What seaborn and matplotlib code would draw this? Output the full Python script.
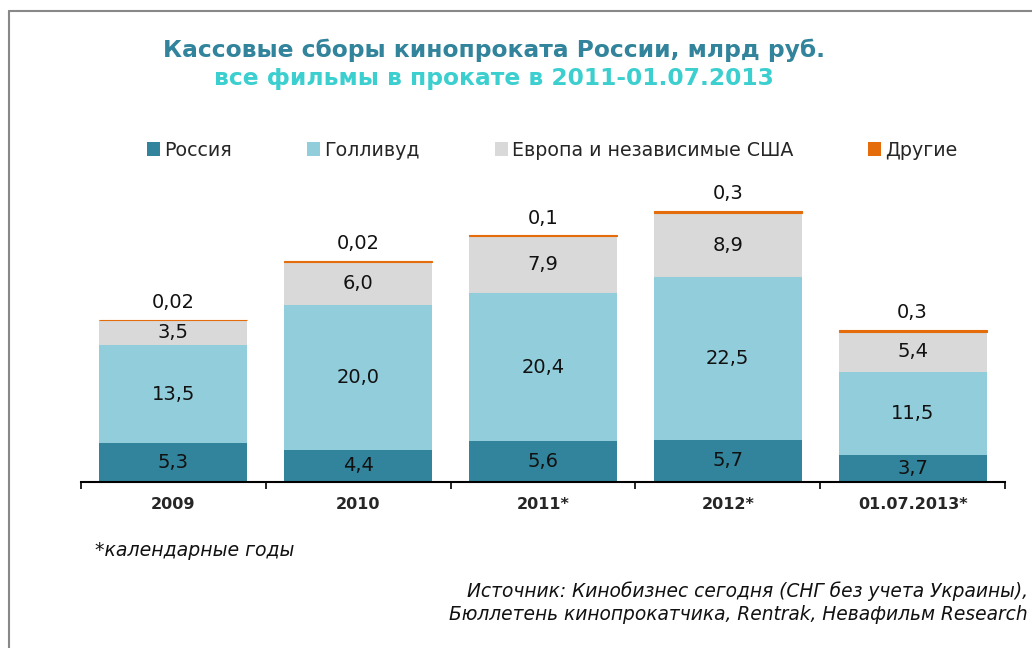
import pandas as pd
import seaborn as sns
import matplotlib.pyplot as plt
from matplotlib.lines import Line2D
from matplotlib.patches import Patch

# values, bln rub
periods = ['2009', '2010', '2011*', '2012*', '01.07.2013*']
russia = [5.3, 4.4, 5.6, 5.7, 3.7]
hollywood = [13.5, 20.0, 20.4, 22.5, 11.5]
europe = [3.5, 6.0, 7.9, 8.9, 5.4]
other = [0.02, 0.02, 0.1, 0.3, 0.3]
other_labels = ['0,02', '0,02', '0,1', '0,3', '0,3']

series_names = ['Россия', 'Голливуд', 'Европа и независимые США', 'Другие']
series_colors = ['#31849B', '#92CDDC', '#D9D9D9', '#E46C0A']


def fmt(v):
    """Format a number with a decimal comma."""
    return f'{v:.1f}'.replace('.', ',')


def main():
    sns.set_theme(style='white')
    plt.rcParams['font.family'] = ['DejaVu Sans']

    df = pd.DataFrame({'period': periods, 'russia': russia,
                       'hollywood': hollywood, 'europe': europe,
                       'other': other})
    df['b1'] = df['russia']
    df['b2'] = df['b1'] + df['hollywood']
    df['b3'] = df['b2'] + df['europe']

    fig = plt.figure(figsize=(10.32, 6.48), dpi=100)
    ax = fig.add_axes([81 / 1032, 1 - 481.5 / 648, 924 / 1032, 0.45])

    sns.barplot(data=df, x='period', y='russia', color=series_colors[0],
                width=0.8, saturation=1, ax=ax, linewidth=0)
    sns.barplot(data=df, x='period', y='hollywood', bottom=df['b1'],
                color=series_colors[1], width=0.8, saturation=1, ax=ax,
                linewidth=0)
    sns.barplot(data=df, x='period', y='europe', bottom=df['b2'],
                color=series_colors[2], width=0.8, saturation=1, ax=ax,
                linewidth=0)
    sns.barplot(data=df, x='period', y='other', bottom=df['b3'],
                color=series_colors[3], width=0.8, saturation=1, ax=ax,
                edgecolor=series_colors[3], linewidth=0.8)

    # segment labels
    for i in range(len(periods)):
        ax.text(i, russia[i] / 2, fmt(russia[i]), ha='center',
                va='center', fontsize=14, color='#111111')
        ax.text(i, df['b1'][i] + hollywood[i] / 2, fmt(hollywood[i]),
                ha='center', va='center', fontsize=14, color='#111111')
        ax.text(i, df['b2'][i] + europe[i] / 2, fmt(europe[i]),
                ha='center', va='center', fontsize=14, color='#111111')
        ax.text(i, df['b3'][i] + other[i] + 1.1, other_labels[i],
                ha='center', va='bottom', fontsize=14, color='#111111')

    ax.set_xlim(-0.5, len(periods) - 0.5)
    ax.set_ylim(0, 40.3)
    ax.set_xlabel('')
    ax.set_ylabel('')
    ax.set_yticks([])
    ax.set_xticks(range(len(periods)))
    ax.set_xticklabels(periods, fontsize=11.5, fontweight='bold')
    ax.set_xticks([x - 0.5 for x in range(len(periods) + 1)], minor=True)
    ax.tick_params(axis='x', which='major', length=0, pad=11)
    ax.tick_params(axis='x', which='minor', length=5, width=1.2,
                   direction='out', color='black', bottom=True)
    for side in ['top', 'right', 'left']:
        ax.spines[side].set_visible(False)
    ax.spines['bottom'].set_color('black')
    ax.spines['bottom'].set_linewidth(1.5)

    # legend
    handles = [Patch(facecolor=c, edgecolor='none') for c in series_colors]
    fig.legend(handles, series_names, loc='center', ncol=4,
               bbox_to_anchor=(0.535, 1 - 150 / 648), frameon=False,
               fontsize=13.7, handlelength=0.7, handleheight=0.7,
               handletextpad=0.2, columnspacing=3.95)

    # titles
    fig.text(0.479, 1 - 50 / 648,
             'Кассовые сборы кинопроката России, млрд руб.',
             ha='center', va='center', fontsize=16.8, fontweight='bold',
             color='#31849B')
    fig.text(0.479, 1 - 78 / 648,
             'все фильмы в прокате в 2011-01.07.2013',
             ha='center', va='center', fontsize=16.8, fontweight='bold',
             color='#3CCFCF')

    # notes
    fig.text(95 / 1032, 1 - 550 / 648, '*календарные годы', ha='left',
             va='center', fontsize=13.6, style='italic', color='#111111')
    fig.text(1028 / 1032, 1 - 591 / 648,
             'Источник: Кинобизнес сегодня (СНГ без учета Украины),',
             ha='right', va='center', fontsize=13.4, style='italic',
             color='#111111')
    fig.text(1028 / 1032, 1 - 615 / 648,
             'Бюллетень кинопрокатчика, Rentrak, Невафильм Research',
             ha='right', va='center', fontsize=13.4, style='italic',
             color='#111111')

    # outer frame
    y_top = 1 - 11 / 648
    x_left = 8.5 / 1032
    fig.add_artist(Line2D([x_left, 1.0], [y_top, y_top],
                          color='#888888', linewidth=1.5))
    fig.add_artist(Line2D([x_left, x_left], [0.0, y_top],
                          color='#888888', linewidth=1.5))

    fig.savefig('out.png', dpi=100)


if __name__ == '__main__':
    main()
